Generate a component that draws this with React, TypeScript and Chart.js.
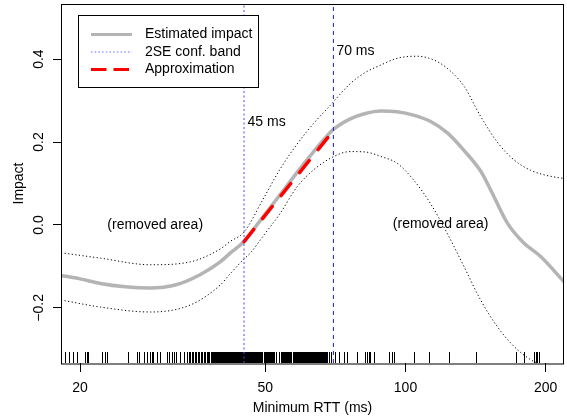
import React, { useEffect, useRef } from 'react';
import { Chart, registerables } from 'chart.js';

Chart.register(...registerables);

const FONT = '"Liberation Sans", Arial, Helvetica, sans-serif';

// Axis ranges and ticks
const rttMin = 18.2;
const rttMax = 219;
const impactMin = -0.333;
const impactMax = 0.533;
const xTickValues = [20, 50, 100, 200];
const yTickValues = [-0.2, 0, 0.2, 0.4];

// Estimated impact curve
const estRtt = [18.2, 20, 22.1, 25.0, 28.3, 32.0, 36.2, 40.0, 42.0, 45.0, 49.6, 53.8, 58.5, 63.5, 67.0, 70.1, 76.1, 82.0, 88.6, 95.9, 104, 113, 123, 133.5, 145, 152.3, 165.4, 179.3, 195.1, 219];
const estImpact = [-0.122, -0.13, -0.141, -0.149, -0.152, -0.145, -0.12, -0.089, -0.068, -0.04, 0.022, 0.073, 0.127, 0.177, 0.208, 0.231, 0.256, 0.269, 0.275, 0.273, 0.265, 0.25, 0.222, 0.18, 0.13, 0.085, 0.005, -0.043, -0.076, -0.137];

// Upper edge of the 2SE band
const upperRtt = [18.2, 22.1, 28.3, 34.5, 40.0, 42.0, 45.0, 49.6, 53.8, 58.5, 63.5, 69.0, 76.1, 82.0, 88.6, 95.9, 105.9, 115, 122.9, 133.5, 145, 157.4, 171, 185.6, 200, 219];
const upperImpact = [-0.067, -0.08, -0.096, -0.089, -0.058, -0.04, -0.017, 0.065, 0.135, 0.195, 0.245, 0.289, 0.341, 0.368, 0.386, 0.402, 0.407, 0.398, 0.378, 0.335, 0.262, 0.2, 0.157, 0.132, 0.12, 0.112];

// Lower edge of the 2SE band
const lowerRtt = [18.2, 22.1, 28.3, 34.5, 40.0, 42.0, 45.0, 46.4, 49.6, 53.8, 58.5, 63.5, 70.1, 76.1, 82.0, 88.6, 95.9, 104.2, 113.1, 122.9, 133.5, 145, 157.4, 171, 185.6, 195, 200];
const lowerImpact = [-0.181, -0.198, -0.21, -0.193, -0.145, -0.118, -0.082, -0.068, -0.025, 0.028, 0.092, 0.133, 0.165, 0.177, 0.176, 0.165, 0.149, 0.108, 0.052, -0.02, -0.1, -0.181, -0.245, -0.293, -0.325, -0.337, -0.345];

// Linear approximation between the two thresholds
const approxRtt = [45, 69];
const approxImpact = [-0.04, 0.219];

// Threshold markers
const lowThreshold = 45;
const highThreshold = 70;

// Observed minimum RTT values (rug)
const rugRtt = [
  18.6, 18.9, 19.3, 19.7, 20.5, 20.7, 20.8, 22.3, 22.6, 22.8, 25.4, 26.5, 26.8, 27.4, 27.8,
  28.3, 28.5, 28.7, 29.2, 29.7, 30.8, 31.0, 31.1, 31.5, 31.9, 32.2, 32.8, 33.4, 33.9, 34.2,
  34.5, 34.8, 35.0, 35.3, 35.5, 35.8, 36.0, 36.3, 36.6, 36.9, 37.1, 37.4, 37.6, 37.9, 38.2,
  38.4, 38.6, 38.8, 39.0, 39.2, 39.3, 39.5, 39.7, 39.9, 40.1, 40.3, 40.5, 40.6, 40.8, 41.0,
  41.2, 41.4, 41.6, 41.8, 42.0, 42.2, 42.4, 42.6, 42.8, 43.0, 43.2, 43.4, 43.6, 43.8, 44.0,
  44.2, 44.4, 44.6, 44.8, 45.0, 45.2, 45.4, 45.6, 45.8, 46.0, 46.2, 46.4, 46.6, 46.8, 47.0,
  47.2, 47.4, 47.6, 47.8, 48.0, 48.2, 48.4, 48.7, 48.9, 49.1, 49.3, 49.6, 49.8, 50.0, 50.2,
  50.5, 50.7, 50.9, 51.2, 51.4, 51.6, 51.9, 52.1, 52.3, 52.6, 52.8, 53.4, 53.6, 53.9, 54.1,
  54.4, 54.6, 54.9, 55.1, 55.4, 55.6, 55.9, 56.2, 56.4, 56.7, 56.9, 57.2, 57.5, 57.7, 58.0,
  58.3, 58.6, 58.8, 59.1, 59.4, 59.7, 60.0, 60.2, 60.5, 60.8, 61.1, 61.4, 61.7, 62.0, 62.3,
  62.6, 62.9, 63.2, 63.5, 63.8, 64.1, 64.4, 64.7, 65.0, 65.3, 65.6, 66.0, 66.3, 66.6, 66.9,
  67.2, 67.5, 67.8, 68.5, 69.2, 70.7, 71.9, 73.7, 74.9, 78.7, 82.0, 82.7, 83.4, 84.1, 85.5,
  92.0, 93.6, 94.3, 104.2, 112.2, 123.9, 141.4, 172.4, 179.6, 188.7, 190.3, 191.9, 193.5,
];

const legendItems = ['Estimated impact', '2SE conf. band', 'Approximation'];
const areaLabel = '(removed area)';

const xy = (xs: number[], ys: number[]) => xs.map((x, i) => ({ x, y: ys[i] }));

const decorPlugin = {
  id: 'decor',
  beforeDatasetsDraw(chart: any) {
    const { ctx, chartArea, scales } = chart;
    ctx.save();
    ctx.beginPath();
    ctx.rect(chartArea.left, chartArea.top, chartArea.right - chartArea.left, chartArea.bottom - chartArea.top);
    ctx.clip();
    ctx.strokeStyle = '#000';
    ctx.lineWidth = 1;
    ctx.beginPath();
    for (const v of rugRtt) {
      const x = Math.round(scales.x.getPixelForValue(v)) + 0.5;
      ctx.moveTo(x, chartArea.bottom + 1);
      ctx.lineTo(x, chartArea.bottom - 11);
    }
    ctx.stroke();
    ctx.restore();
  },
  afterDatasetsDraw(chart: any) {
    const { ctx, chartArea, scales } = chart;
    const xs = scales.x;
    const ys = scales.y;
    ctx.save();
    // plot box
    ctx.strokeStyle = '#000';
    ctx.lineWidth = 1;
    ctx.strokeRect(chartArea.left + 0.5, chartArea.top + 0.5, chartArea.right - chartArea.left - 1, chartArea.bottom - chartArea.top + 0.5);

    // annotations
    ctx.fillStyle = '#000';
    ctx.font = `14px ${FONT}`;
    ctx.textBaseline = 'middle';
    ctx.textAlign = 'left';
    ctx.fillText(`${lowThreshold} ms`, xs.getPixelForValue(lowThreshold) + 3.5, ys.getPixelForValue(0.247));
    ctx.fillText(`${highThreshold} ms`, xs.getPixelForValue(highThreshold) + 3, ys.getPixelForValue(0.42));
    ctx.textAlign = 'center';
    ctx.fillText(areaLabel, xs.getPixelForValue(29), ys.getPixelForValue(0));
    ctx.fillText(areaLabel, xs.getPixelForValue(119), ys.getPixelForValue(0.002));

    // legend
    const lx = chartArea.left + 17;
    const ly = chartArea.top + 11;
    ctx.fillStyle = '#fff';
    ctx.fillRect(lx, ly, 180, 72);
    ctx.strokeStyle = '#000';
    ctx.strokeRect(lx + 0.5, ly + 0.5, 180, 72);
    const rows = [19.5, 37, 54.5];
    const sx0 = lx + 13;
    const sx1 = lx + 54;

    ctx.lineCap = 'butt';
    ctx.strokeStyle = '#b4b4b4';
    ctx.lineWidth = 3;
    ctx.beginPath();
    ctx.moveTo(sx0, ly + rows[0]);
    ctx.lineTo(sx1, ly + rows[0]);
    ctx.stroke();

    ctx.strokeStyle = '#6a6aff';
    ctx.lineWidth = 1;
    ctx.setLineDash([1.5, 2.2]);
    ctx.beginPath();
    ctx.moveTo(sx0, ly + rows[1]);
    ctx.lineTo(sx1, ly + rows[1]);
    ctx.stroke();

    ctx.strokeStyle = '#ff0000';
    ctx.lineWidth = 3;
    ctx.setLineDash([15.5, 7]);
    ctx.beginPath();
    ctx.moveTo(sx0, ly + rows[2]);
    ctx.lineTo(sx1 - 2, ly + rows[2]);
    ctx.stroke();
    ctx.setLineDash([]);

    ctx.fillStyle = '#000';
    ctx.textAlign = 'left';
    ctx.textBaseline = 'middle';
    legendItems.forEach((t, i) => ctx.fillText(t, lx + 67, ly + rows[i]));
    ctx.restore();
  },
};

export default function App() {
  const canvasRef = useRef<HTMLCanvasElement | null>(null);

  useEffect(() => {
    const canvas = canvasRef.current;
    if (!canvas) return;
    Chart.defaults.font.family = FONT;
    const chart = new Chart(canvas, {
      type: 'line',
      data: {
        datasets: [
          {
            data: [{ x: highThreshold, y: impactMin }, { x: highThreshold, y: impactMax }],
            borderColor: '#1818d8',
            borderWidth: 1,
            borderDash: [4, 4],
            pointRadius: 0,
            clip: 0,
          },
          {
            data: [{ x: lowThreshold, y: impactMin }, { x: lowThreshold, y: impactMax }],
            borderColor: '#4848ff',
            borderWidth: 1,
            borderDash: [2, 2.5],
            pointRadius: 0,
            clip: 0,
          },
          {
            data: xy(approxRtt, approxImpact),
            borderColor: '#ff0000',
            borderWidth: 3.5,
            borderDash: [15.5, 14],
            borderCapStyle: 'round',
            pointRadius: 0,
            clip: 0,
          },
          {
            data: xy(upperRtt, upperImpact),
            borderColor: '#000',
            borderWidth: 1,
            borderDash: [1.2, 2.4],
            cubicInterpolationMode: 'monotone',
            pointRadius: 0,
            clip: 0,
          },
          {
            data: xy(lowerRtt, lowerImpact),
            borderColor: '#000',
            borderWidth: 1,
            borderDash: [1.2, 2.4],
            cubicInterpolationMode: 'monotone',
            pointRadius: 0,
            clip: 0,
          },
          {
            data: xy(estRtt, estImpact),
            borderColor: '#b4b4b4',
            borderWidth: 3.5,
            cubicInterpolationMode: 'monotone',
            pointRadius: 0,
            clip: 0,
          },
        ],
      },
      options: {
        animation: false,
        responsive: false,
        devicePixelRatio: 1,
        layout: { padding: { top: 4, right: 3, left: 0, bottom: 0 } },
        plugins: { legend: { display: false }, tooltip: { enabled: false } },
        scales: {
          x: {
            type: 'logarithmic',
            position: 'bottom',
            min: rttMin,
            max: rttMax,
            afterBuildTicks: (s: any) => {
              s.ticks = xTickValues.map((v) => ({ value: v }));
            },
            afterFit: (s: any) => {
              s.height = 57;
              s.paddingLeft = 0;
              s.paddingRight = 0;
            },
            ticks: {
              color: '#000',
              font: { size: 14, family: FONT },
              padding: 8,
              maxRotation: 0,
              autoSkip: false,
              callback: (v: any) => String(v),
            },
            grid: { display: true, drawOnChartArea: false, drawTicks: true, tickLength: 9, color: '#000', lineWidth: 1 },
            border: { display: false },
            title: {
              display: true,
              text: 'Minimum RTT (ms)',
              color: '#000',
              font: { size: 14, family: FONT },
              padding: { top: 0, bottom: 3.5 },
            },
          },
          y: {
            type: 'linear',
            position: 'left',
            min: impactMin,
            max: impactMax,
            afterBuildTicks: (s: any) => {
              s.ticks = yTickValues.map((v) => ({ value: v }));
            },
            afterFit: (s: any) => {
              s.width = 61;
              s.paddingTop = 0;
              s.paddingBottom = 0;
            },
            ticks: {
              color: '#000',
              font: { size: 14, family: FONT },
              padding: 0,
              minRotation: 90,
              maxRotation: 90,
              crossAlign: 'center',
              autoSkip: false,
              callback: (v: any) => (v < 0 ? '\u2212' + Math.abs(v).toFixed(1) : Number(v).toFixed(1)),
            },
            grid: { display: true, drawOnChartArea: false, drawTicks: true, tickLength: 8, color: '#000', lineWidth: 1 },
            border: { display: false },
            title: {
              display: true,
              text: 'Impact',
              color: '#000',
              font: { size: 14, family: FONT },
              padding: { top: 11, bottom: 0 },
            },
          },
        },
      },
      plugins: [decorPlugin],
    } as any);
    return () => chart.destroy();
  }, []);

  return (
    <div style={{ position: 'absolute', left: 0, top: 0, width: 567, height: 420, background: '#fff' }}>
      <canvas ref={canvasRef} width={567} height={420} style={{ display: 'block', width: 567, height: 420 }} />
    </div>
  );
}
